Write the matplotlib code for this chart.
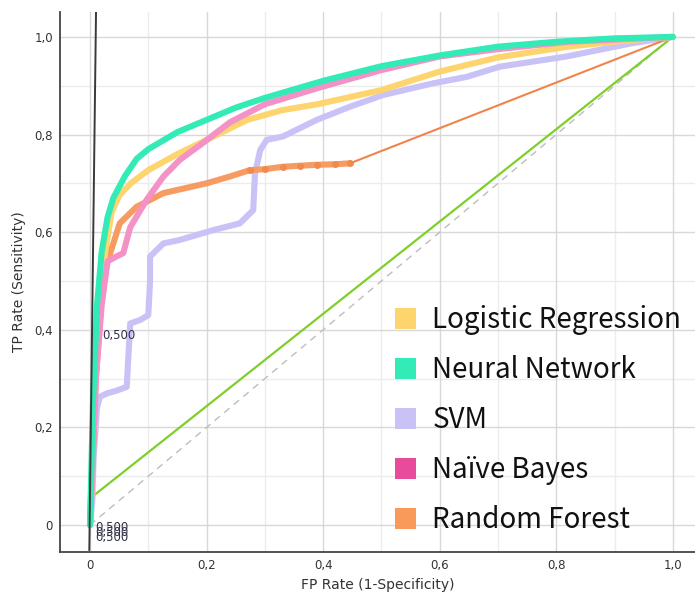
import matplotlib
matplotlib.use("Agg")
import matplotlib.pyplot as plt
from matplotlib.patches import Patch
import numpy as np

# ---- data ----
lr_fpr = [0, 0.004, 0.008, 0.012, 0.017, 0.026, 0.037, 0.05, 0.07, 0.1, 0.15, 0.2, 0.27, 0.33, 0.39, 0.5, 0.6, 0.7, 0.82, 0.93, 1.0]
lr_tpr = [0, 0.15, 0.30, 0.40, 0.46, 0.56, 0.64, 0.675, 0.70, 0.727, 0.76, 0.789, 0.83, 0.85, 0.862, 0.891, 0.929, 0.958, 0.98, 0.994, 1.0]

nn_fpr = [0, 0.005, 0.012, 0.02, 0.03, 0.04, 0.06, 0.08, 0.1, 0.15, 0.2, 0.25, 0.3, 0.4, 0.5, 0.6, 0.7, 0.8, 0.9, 1.0]
nn_tpr = [0, 0.25, 0.45, 0.56, 0.63, 0.67, 0.715, 0.75, 0.77, 0.805, 0.83, 0.855, 0.875, 0.91, 0.94, 0.962, 0.98, 0.99, 0.997, 1.0]

svm_fpr = [0, 0.004, 0.006, 0.012, 0.017, 0.03, 0.045, 0.063, 0.066, 0.069, 0.086, 0.1, 0.103, 0.103, 0.126, 0.154, 0.211, 0.257, 0.28, 0.283, 0.292, 0.303, 0.331, 0.389, 0.446, 0.503, 0.589, 0.646, 0.703, 0.818, 0.93, 1.0]
svm_tpr = [0, 0.05, 0.133, 0.24, 0.263, 0.27, 0.275, 0.283, 0.35, 0.413, 0.42, 0.43, 0.50, 0.55, 0.577, 0.584, 0.604, 0.618, 0.645, 0.72, 0.768, 0.789, 0.796, 0.83, 0.857, 0.881, 0.905, 0.918, 0.939, 0.96, 0.987, 1.0]

nb_fpr = [0, 0.01, 0.02, 0.03, 0.045, 0.057, 0.069, 0.097, 0.126, 0.154, 0.194, 0.24, 0.3, 0.39, 0.5, 0.6, 0.7, 0.82, 1.0]
nb_tpr = [0, 0.30, 0.45, 0.54, 0.55, 0.557, 0.61, 0.666, 0.714, 0.748, 0.783, 0.825, 0.862, 0.895, 0.932, 0.96, 0.975, 0.99, 1.0]

rf_fpr = [0, 0.01, 0.02, 0.03, 0.04, 0.051, 0.08, 0.126, 0.2, 0.24, 0.274, 0.3, 0.331, 0.36, 0.389, 0.42, 0.446]
rf_tpr = [0, 0.30, 0.47, 0.54, 0.577, 0.618, 0.652, 0.68, 0.70, 0.714, 0.727, 0.729, 0.734, 0.736, 0.738, 0.739, 0.741]
rf_tail_fpr = [0.446, 1.0]
rf_tail_tpr = [0.741, 1.0]

green_fpr = [0.007, 1.0]
green_tpr = [0.061, 1.0]
black_fpr = [-0.0012, 0.0103]
black_tpr = [-0.051, 1.051]
diag = [0, 1]

threshold_label = "0,500"

labels = ["Logistic Regression", "Neural Network", "SVM", "Naïve Bayes", "Random Forest"]
legend_colors = ["#fdd46e", "#33ebb6", "#c9c2f7", "#e94b9b", "#f99a5a"]

xticks = [0, 0.2, 0.4, 0.6, 0.8, 1.0]
xticklabels = ["0", "0,2", "0,4", "0,6", "0,8", "1,0"]
yticks = [0, 0.2, 0.4, 0.6, 0.8, 1.0]
yticklabels = ["0", "0,2", "0,4", "0,6", "0,8", "1,0"]

# ---- figure ----
fig = plt.figure(figsize=(6.95, 5.98), dpi=100)
ax = fig.add_axes([60/695, 1 - 552/598, 1 - 60/695, (552 - 12)/598])
ax.set_xlim(-0.0515, 1.038)
ax.set_ylim(-0.0553, 1.051)

for v in np.arange(0.1, 1.01, 0.2):
    ax.axvline(v, color="#ececec", lw=1.0, zorder=0)
    ax.axhline(v, color="#ececec", lw=1.0, zorder=0)
for v in np.arange(0.2, 1.01, 0.2):
    ax.axvline(v, color="#d8d8d8", lw=1.0, zorder=0)
    ax.axhline(v, color="#d8d8d8", lw=1.0, zorder=0)
ax.axhline(0, color="#d8d8d8", lw=1.0, zorder=0)
ax.axvline(0, color="#d8d8d8", lw=1.0, zorder=0)

ax.plot(diag, diag, color="#bdbdbd", lw=1.0, ls=(0, (5, 4)), zorder=1)
ax.plot(green_fpr, green_tpr, color="#7fcf2a", lw=1.6, zorder=2)

lw = 4.4
ax.plot(svm_fpr, svm_tpr, color="#c9c2f7", lw=lw, solid_capstyle="round", solid_joinstyle="round", zorder=3)
ax.plot(rf_tail_fpr, rf_tail_tpr, color="#f0844a", lw=1.5, zorder=3)
ax.plot(rf_fpr, rf_tpr, color="#f69c63", lw=lw, solid_capstyle="round", solid_joinstyle="round", zorder=4)
ax.plot(rf_fpr[10:], rf_tpr[10:], ls="none", marker="o", ms=4, color="#f08a50", zorder=4)
ax.plot(lr_fpr, lr_tpr, color="#fdd46e", lw=lw, solid_capstyle="round", solid_joinstyle="round", zorder=5)
ax.plot(nb_fpr, nb_tpr, color="#f491c6", lw=lw, solid_capstyle="round", solid_joinstyle="round", zorder=6)
ax.plot(nn_fpr, nn_tpr, color="#33ebb6", lw=lw, solid_capstyle="round", solid_joinstyle="round", zorder=7)

ax.plot(black_fpr, black_tpr, color="#3a3a3a", lw=1.4, zorder=8)

tfont = dict(family=["DejaVu Sans"], fontsize=8.5, color="#303048")
ax.text(0.021, 0.388, threshold_label, va="center", ha="left", zorder=9, **tfont)
for dy in [-0.006, -0.016, -0.026]:
    ax.text(0.009, dy, threshold_label, va="center", ha="left", zorder=9, **tfont)

ax.set_xticks(xticks)
ax.set_xticklabels(xticklabels)
ax.set_yticks(yticks)
ax.set_yticklabels(yticklabels)
ax.tick_params(length=0, labelsize=8.5, labelcolor="#333333", pad=5)

for s in ["top", "right"]:
    ax.spines[s].set_visible(False)
for s in ["left", "bottom"]:
    ax.spines[s].set_color("#444444")
    ax.spines[s].set_linewidth(1.3)

ax.set_xlabel("FP Rate (1-Specificity)", fontsize=10, color="#333333", labelpad=4)
ax.set_ylabel("TP Rate (Sensitivity)", fontsize=10, color="#333333", labelpad=6)

handles = [Patch(facecolor=c, edgecolor="none") for c in legend_colors]
leg = ax.legend(handles, labels, loc="upper left", bbox_to_anchor=(395/695, 1 - 305/598),
                bbox_transform=fig.transFigure, frameon=False,
                handlelength=0.75, handleheight=0.8, handletextpad=0.6, labelspacing=0.72,
                borderpad=0, borderaxespad=0, prop={"family": "Noto Sans CJK KR", "size": 20})
for t in leg.get_texts():
    t.set_color("#111111")

fig.savefig("out.png", dpi=100, facecolor="white")
